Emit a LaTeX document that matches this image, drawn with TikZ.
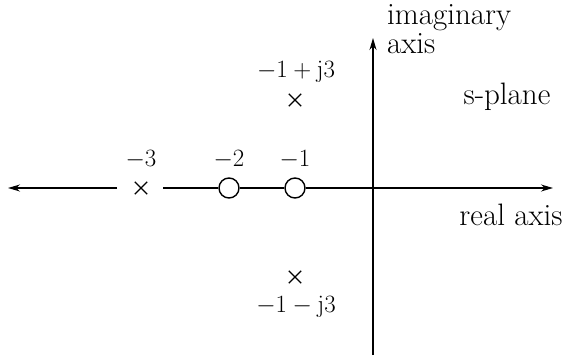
\documentclass[tikz,border=0pt]{standalone}
\usetikzlibrary{arrows.meta,shapes.misc}
\begin{document}
\begin{tikzpicture}[x=1pt,y=-1pt,
  ax/.style={line width=1.4pt,-{Stealth[length=12pt,width=7pt]}},
  ln/.style={line width=1.4pt},
  zero/.style={circle,draw,line width=1.4pt,minimum size=20pt,inner sep=0pt},
  pole/.style={cross out,draw,line width=1.3pt,minimum size=11pt,inner sep=0pt},
  lbl/.style={font=\fontsize{31}{35}\selectfont,inner sep=0pt}]
\useasboundingbox (0,0) rectangle (573,363);
\coordinate (o) at (373,188);
\coordinate (rt) at (553,188);
\coordinate (lt) at (8,188);
\coordinate (lg) at (117,188);
\coordinate (rg) at (163,188);
\coordinate (top) at (373,38);
\coordinate (bot) at (373,355);
\node[pole] (p3) at (141,188) {};
\node[zero] (z2) at (229,188) {};
\node[zero] (z1) at (295,188) {};
\node[pole] (pu) at (295,100) {};
\node[pole] (pl) at (295,277) {};
\draw[ax] (lg) -- (lt);
\draw[ln] (rg) -- (z2);
\draw[ln] (z2) -- (z1);
\draw[ax] (z1) -- (rt);
\draw[ax] (bot) -- (top);
\node[lbl] (l3) at (141,160) {$-3$};
\node[lbl] (l2) at (229,160) {$-2$};
\node[lbl] (l1) at (295,160) {$-1$};
\node[lbl] (lu) at (296,72) {$-1+\mathrm{j}3$};
\node[lbl] (ll) at (296,307) {$-1-\mathrm{j}3$};
\node[lbl,anchor=west] (im) at (387,18) {imaginary};
\node[lbl,anchor=west] (ia) at (387,44) {axis};
\node[lbl] (sp) at (507,97) {s-plane};
\node[lbl] (ra) at (511,215) {real axis};
\end{tikzpicture}
\end{document}
